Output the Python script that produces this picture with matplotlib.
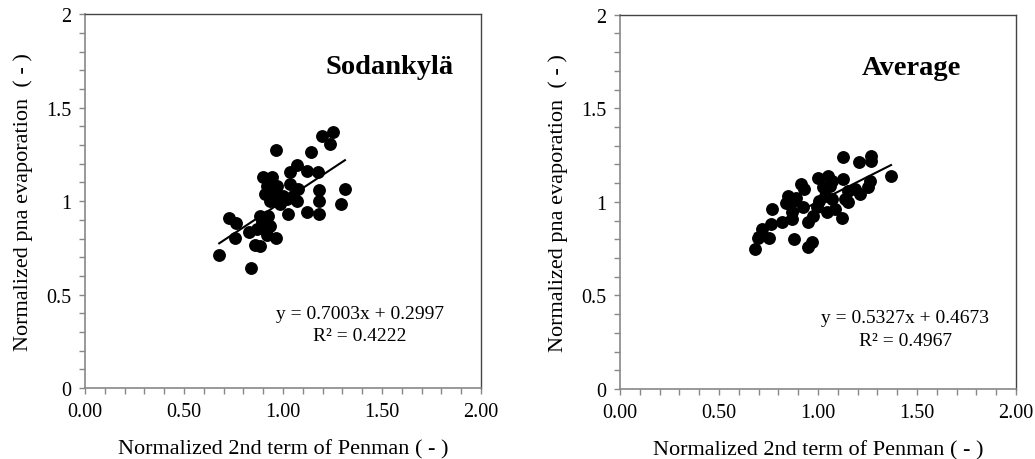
import numpy as np
import matplotlib.pyplot as plt
from matplotlib.ticker import MultipleLocator, FormatStrFormatter

plt.rcParams['font.family'] = ['Liberation Serif', 'DejaVu Serif']

# Sodankyla data
sod_x = [0.678, 0.729, 0.763, 0.759, 0.837, 0.830, 0.859, 0.884, 0.884, 0.909,
         0.917, 0.926, 0.934, 0.901, 0.943, 0.909, 0.949, 0.968, 0.934, 0.965,
         0.965, 0.985, 0.968, 1.027, 1.035, 1.035, 1.052, 1.072, 1.077, 1.069,
         1.119, 1.123, 1.140, 1.178, 1.184, 1.184, 1.184, 1.195, 1.237, 1.254,
         1.291, 1.313, 0.998, 1.019, 0.870, 0.895, 0.955, 0.920]
sod_y = [0.714, 0.908, 0.884, 0.805, 0.641, 0.833, 0.766, 0.762, 0.923, 0.860,
         0.819, 0.923, 0.869, 1.127, 1.127, 1.038, 1.047, 1.012, 1.003, 1.275,
         0.801, 0.985, 1.083, 0.931, 1.154, 1.092, 1.029, 1.193, 1.065, 1.003,
         0.940, 1.163, 1.264, 1.154, 1.060, 1.003, 0.931, 1.350, 1.305, 1.368,
         0.985, 1.065, 1.029, 1.012, 0.850, 0.890, 1.060, 1.080]
sod_fit = (0.7003, 0.2997)

# Average data
avg_x = [0.682, 0.695, 0.715, 0.753, 0.763, 0.766, 0.820, 0.837, 0.847, 0.867,
         0.870, 0.887, 0.880, 0.914, 0.931, 0.926, 0.948, 0.951, 0.968, 0.976,
         0.993, 0.998, 1.035, 1.044, 1.052, 1.061, 1.069, 1.086, 1.120, 1.128,
         1.128, 1.136, 1.153, 1.187, 1.212, 1.207, 1.254, 1.263, 1.268, 1.268,
         1.369, 1.003, 1.027, 1.069, 1.153, 0.867]
avg_y = [0.748, 0.805, 0.855, 0.805, 0.882, 0.962, 0.894, 0.994, 1.033, 0.944,
         0.908, 1.019, 0.801, 1.095, 1.069, 0.971, 0.890, 0.757, 0.787, 0.926,
         0.971, 1.126, 1.033, 0.944, 1.140, 1.086, 1.015, 0.962, 0.912, 1.238,
         1.122, 1.015, 1.060, 1.069, 1.042, 1.211, 1.077, 1.113, 1.243, 1.220,
         1.136, 1.006, 1.078, 1.113, 0.997, 0.998]
avg_fit = (0.5327, 0.4673)

panels = [
    (sod_x, sod_y, sod_fit, 0.4222, 'Sodankylä', [0.0821, 0.154, 0.3826, 0.813], 1.54, 1.39, 0.40),
    (avg_x, avg_y, avg_fit, 0.4967, 'Average', [0.599, 0.152, 0.3826, 0.814], 1.47, 1.44, 0.38),
]

fig = plt.figure(figsize=(10.35, 4.6), dpi=100)

for x, y, fit, r2, name, rect, tx, ex, ey in panels:
    ax = fig.add_axes(rect)
    ax.scatter(x, y, s=68, color='black', zorder=3)
    xl = np.array([min(x), max(x)])
    ax.plot(xl, fit[0] * xl + fit[1], color='black', lw=1.5, zorder=4)
    ax.set_xlim(0, 2)
    ax.set_ylim(0, 2)
    ax.xaxis.set_major_locator(MultipleLocator(0.5))
    ax.xaxis.set_minor_locator(MultipleLocator(0.1))
    ax.yaxis.set_major_locator(MultipleLocator(0.5))
    ax.yaxis.set_minor_locator(MultipleLocator(0.1))
    ax.xaxis.set_major_formatter(FormatStrFormatter('%.2f'))
    ax.set_yticks([0, 0.5, 1, 1.5, 2])
    ax.set_yticklabels(['0', '0.5', '1', '1.5', '2'])
    ax.tick_params(which='both', direction='out', length=4, width=1, color='#888888',
                   labelsize=14.5, pad=6)
    for s in ['left', 'bottom']:
        ax.spines[s].set_color('#888888')
        ax.spines[s].set_linewidth(1.2)
    for s in ['top', 'right']:
        ax.spines[s].set_color('#444444')
        ax.spines[s].set_linewidth(1.0)
    ax.set_xlabel('Normalized 2nd term of Penman ( - )', fontsize=16, labelpad=13)
    ax.set_ylabel('Normalized pna evaporation  ( - )', fontsize=16, labelpad=9)
    ax.text(tx, 1.72, name, fontsize=20.5, fontweight='bold', ha='center', va='center')
    ax.text(ex, ey, 'y = %.4fx + %.4f' % fit, fontsize=14, ha='center', va='center')
    ax.text(ex, ey - 0.12, 'R² = %.4f' % r2, fontsize=14, ha='center', va='center')

fig.savefig('out.png', dpi=100)
